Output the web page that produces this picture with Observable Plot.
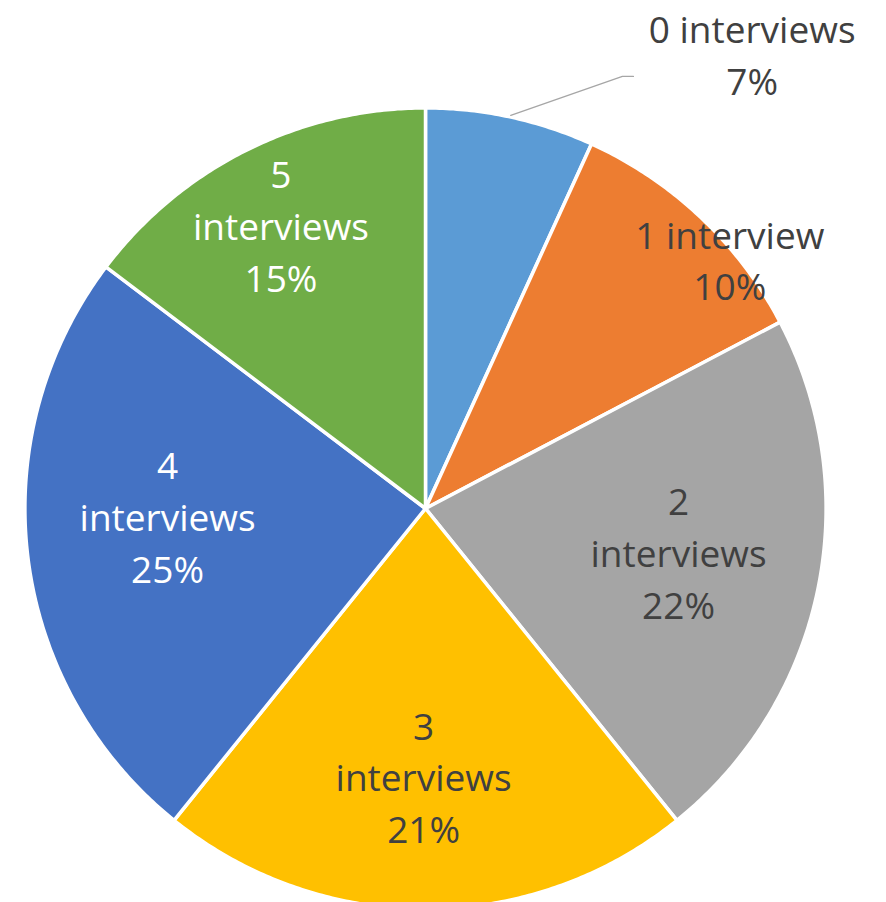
<!DOCTYPE html>
<html>
<head>
<meta charset="utf-8">
<script src="https://cdn.jsdelivr.net/npm/d3@7"></script>
<script src="https://cdn.jsdelivr.net/npm/@observablehq/plot@0.6"></script>
<style>
  html, body { margin: 0; padding: 0; background: #fff; }
  #chart svg { display: block; }
</style>
</head>
<body>
<div id="chart"></div>
<script>
// ---- data ----
const categories = ["0 interviews", "1 interview", "2 interviews", "3 interviews", "4 interviews", "5 interviews"];
const shares = [6.8, 10.5, 21.9, 21.6, 24.5, 14.7];          // slice sizes measured from the angles
const percentLabels = ["7%", "10%", "22%", "21%", "25%", "15%"]; // printed labels
const labelTexts = ["0 interviews\n7%", "1 interview\n10%", "2\ninterviews\n22%", "3\ninterviews\n21%", "4\ninterviews\n25%", "5\ninterviews\n15%"];

// ---- style / layout ----
const colors = ["#5B9BD5", "#ED7D31", "#A5A5A5", "#FFC000", "#4472C4", "#70AD47"];
const textColors = ["#404040", "#404040", "#404040", "#404040", "#FFFFFF", "#FFFFFF"];
const labelAngle = [35.9, 51.1, 100.5, 180.4, 267.6, 332.7];   // degrees clockwise from 12 o'clock
const labelRadius = [1.396, 0.98, 0.645, 0.68, 0.647, 0.79];     // fraction of radius

const W = 886, H = 902;
const cx = 425, cy = 508, R = 399;

const total = d3.sum(shares);
let acc = 0;
const slices = shares.map((v, i) => {
  const a0 = acc / total * 2 * Math.PI;
  acc += v;
  const a1 = acc / total * 2 * Math.PI;
  return {i, name: categories[i], a0, a1};
});

const rr = 1.004;
function polyFor(s) {
  const pts = [{x: 0, y: 0}];
  const n = Math.max(8, Math.ceil((s.a1 - s.a0) / (Math.PI / 360)));
  for (let k = 0; k <= n; k++) {
    const a = s.a0 + (s.a1 - s.a0) * k / n;
    pts.push({x: rr * Math.sin(a), y: rr * Math.cos(a)});
  }
  pts.push({x: 0, y: 0});
  return pts;
}

const labels = slices.map((s, i) => {
  const a = labelAngle[i] * Math.PI / 180;
  return {x: labelRadius[i] * Math.sin(a), y: labelRadius[i] * Math.cos(a), text: labelTexts[i], fill: textColors[i]};
});

// leader line for the small outside label (slice 0)
const s0 = slices[0];
const mid0 = (s0.a0 + s0.a1) / 2;
const elbowA = 24.5 * Math.PI / 180, elbowR = 1.19;
const leader = [
  {x: 1.008 * Math.sin(mid0), y: 1.008 * Math.cos(mid0)},
  {x: elbowR * Math.sin(elbowA), y: elbowR * Math.cos(elbowA)},
  {x: elbowR * Math.sin(elbowA) + 11 / R, y: elbowR * Math.cos(elbowA)}
];

const marks = slices.map((s, i) =>
  Plot.line(polyFor(s), {x: "x", y: "y", fill: colors[i], stroke: "white", strokeWidth: 3.5, strokeLinejoin: "round", curve: "linear"})
);
marks.push(Plot.line(leader, {x: "x", y: "y", stroke: "#A6A6A6", strokeWidth: 1.3}));
marks.push(Plot.text(labels, {
  x: "x", y: "y", text: "text", fill: "fill", dy: -5,
  fontSize: 37, lineHeight: 1.4, textAnchor: "middle", lineAnchor: "middle",
  fontFamily: "'Open Sans', sans-serif"
}));

const chart = Plot.plot({
  width: W, height: H,
  margin: 0,
  x: {domain: [-cx / R, (W - cx) / R], axis: null},
  y: {domain: [(cy - H) / R, cy / R], axis: null},
  color: {type: "identity"},
  style: {background: "white", overflow: "visible"},
  marks
});
document.getElementById("chart").appendChild(chart);
</script>
</body>
</html>
